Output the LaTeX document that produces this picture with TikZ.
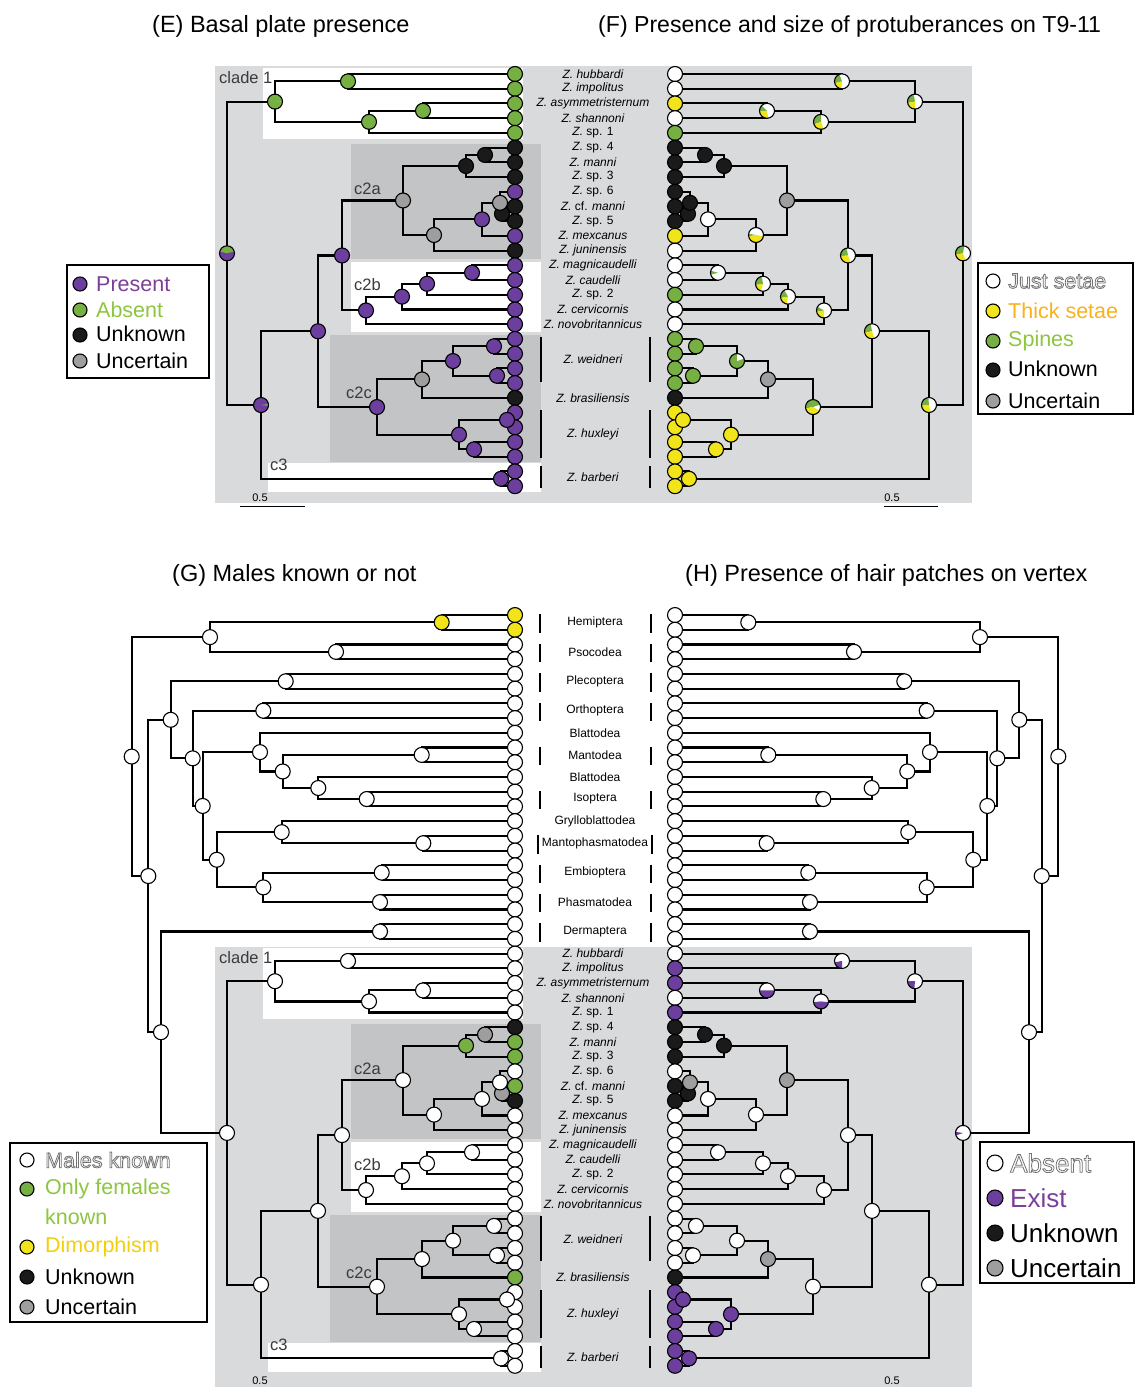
\documentclass[tikz,border=0pt]{standalone}
\usepackage{fontspec}
\setmainfont{Liberation Sans}
\usetikzlibrary{calc}
\definecolor{cpurple}{HTML}{6C3F9F}
\definecolor{cgreen}{HTML}{76B043}
\definecolor{cyellow}{HTML}{F2E41B}
\definecolor{cblack}{HTML}{1A1A1A}
\definecolor{cgrey}{HTML}{9E9E9E}
\definecolor{bglight}{HTML}{D9DADC}
\definecolor{bgdark}{HTML}{C3C4C6}
\definecolor{tpurple}{HTML}{7D3F98}
\definecolor{tgreen}{HTML}{8DC63F}
\definecolor{torange}{HTML}{F8B21A}
\definecolor{tyellow}{HTML}{F3CF0A}
\definecolor{cladetext}{HTML}{3A3A3A}

\newcommand\nodeR{7.5pt}
\newcommand\Zi[1]{\textit{Z. #1}}
\newcommand\Zs[1]{\textit{Z.} #1}
\newcommand\fs[1]{\fontsize{#1}{#1}\selectfont}
\newcommand\outlinetext[1]{{\color{white}\special{pdf:literal direct 2 Tr 0.8 w 0.45 0.45 0.45 RG}#1\special{pdf:literal direct 0 Tr}}}

\newcommand\drawdots[1]{\foreach \nn/\cc in #1 {\filldraw[mk,fill=\cc] (\nn) circle[radius=\nodeR];}}
\newcommand\pie[3]{%
  \fill[#2] (#1) circle[radius=\nodeR];
  \foreach \pc/\pa/\pb in {#3}{\fill[\pc] (#1) -- ++(\pa:\nodeR) arc[start angle=\pa,end angle=\pb,radius=\nodeR] -- cycle;}
  \draw[mk] (#1) circle[radius=\nodeR];}

\newcommand\zoroCoords{%
\foreach \i in {0,...,28}{\coordinate (t\i) at (515,\i);}
\coordinate (A) at (348,0.5);
\coordinate (D) at (423,2.5);
\coordinate (B) at (369,3.25);
\coordinate (C1) at (275,1.875);
\coordinate (P1) at (485,5.5);
\coordinate (P) at (466,6.25);
\coordinate (Q3) at (502,9.5);
\coordinate (Q2) at (500,8.75);
\coordinate (Q1) at (482,9.875);
\coordinate (Q) at (434,10.9375);
\coordinate (CA) at (403,8.59375);
\coordinate (S3) at (472,13.5);
\coordinate (S2) at (427,14.25);
\coordinate (S1) at (402,15.125);
\coordinate (CB) at (366,16.0625);
\coordinate (R4) at (342,12.328);
\coordinate (T2) at (494,18.5);
\coordinate (T3) at (497,20.5);
\coordinate (T1) at (453,19.5);
\coordinate (T) at (422,20.75);
\coordinate (U1) at (507,23.5);
\coordinate (U2) at (474,25.5);
\coordinate (U) at (459,24.5);
\coordinate (CC) at (377,22.625);
\coordinate (R3) at (318,17.477);
\coordinate (c3) at (501,27.5);
\coordinate (R2) at (261,22.488);
\coordinate (R1) at (227,12.182);
}
\newcommand\zoroEdges{%
\foreach \pp/\qq in {R1/C1,R1/R2,C1/A,C1/B,A/t0,A/t1,B/D,B/t4,D/t2,D/t3,R2/R3,R2/c3,c3/t27,c3/t28,R3/R4,R3/CC,R4/CA,R4/CB,CA/P,CA/Q,P/P1,P/t7,P1/t5,P1/t6,Q/Q1,Q/t12,Q1/Q2,Q1/t11,Q2/t8,Q2/Q3,Q3/t9,Q3/t10,CB/S1,CB/t17,S1/S2,S1/t16,S2/S3,S2/t15,S3/t13,S3/t14,CC/T,CC/U,T/T1,T/t22,T1/T2,T1/T3,T2/t18,T2/t19,T3/t20,T3/t21,U/U1,U/U2,U1/t23,U1/t24,U2/t25,U2/t26}
  {\draw[edge] (\pp) |- (\qq);}
}
\newcommand\ogCoords{%
\foreach \i in {0,...,22}{\pgfmathsetmacro\rr{\i-23}\coordinate (o\i) at (515,\rr);}
\coordinate (Hm) at (441.7,-22.5);
\coordinate (Ps) at (336,-20.5);
\coordinate (N1) at (210,-21.5);
\coordinate (Pl) at (285.7,-18.5);
\coordinate (Or) at (263.3,-16.5);
\coordinate (Ma) at (421.7,-13.5);
\coordinate (Is) at (366.7,-10.5);
\coordinate (nA) at (318.3,-11.25);
\coordinate (nB) at (282.7,-12.375);
\coordinate (nC) at (260,-13.6875);
\coordinate (Mp) at (423.3,-7.5);
\coordinate (nD) at (281.7,-8.25);
\coordinate (Em) at (381.7,-5.5);
\coordinate (Ph) at (380,-3.5);
\coordinate (nE) at (263.3,-4.5);
\coordinate (nF) at (216.7,-6.375);
\coordinate (nG) at (202.7,-10.031);
\coordinate (nH) at (192.7,-13.266);
\coordinate (nI) at (170.7,-15.883);
\coordinate (De) at (380,-1.5);
\coordinate (X) at (161,5.34);
\coordinate (nJ) at (148.3,-5.27);
\coordinate (Root) at (131.7,-13.386);
}
\newcommand\ogEdges{%
\foreach \pp/\qq in {Root/N1,Root/nJ,N1/Hm,N1/Ps,Hm/o0,Hm/o1,Ps/o2,Ps/o3,nJ/nI,nJ/X,nI/Pl,nI/nH,Pl/o4,Pl/o5,nH/Or,nH/nG,Or/o6,Or/o7,nG/nC,nG/nF,nC/o8,nC/nB,nB/Ma,nB/nA,Ma/o9,Ma/o10,nA/o11,nA/Is,Is/o12,Is/o13,nF/nD,nF/nE,nD/o14,nD/Mp,Mp/o15,Mp/o16,nE/Em,nE/Ph,Em/o17,Em/o18,Ph/o19,Ph/o20,X/De,X/R1,De/o21,De/o22}
  {\draw[edge] (\pp) |- (\qq);}
}
\newcommand\zoroLabels{%
\foreach \r/\t [count=\k] in {0/\Zi{hubbardi},1/\Zi{impolitus},2/\Zi{asymmetristernum},3/\Zi{shannoni},4/\Zs{sp. 1},5/\Zs{sp. 4},6/\Zi{manni},7/\Zs{sp. 3},8/\Zs{sp. 6},9/{\textit{Z.} cf. \textit{manni}},10/\Zs{sp. 5},11/\Zi{mexcanus},12/\Zi{juninensis},13/\Zi{magnicaudelli},14/\Zi{caudelli},15/\Zs{sp. 2},16/\Zi{cervicornis},17/\Zi{novobritannicus},19.4/\Zi{weidneri},22/\Zi{brasiliensis},24.5/\Zi{huxleyi},27.4/\Zi{barberi}}
  {\node[splabel] (lab\k) at (593,\r) {\t};}
\foreach \a/\b in {17.85/20.9,22.85/26.1,26.65/28.15}
  {\draw[grpbar] (541,\a) -- (541,\b); \draw[grpbar] (650,\a) -- (650,\b);}
}

% colour lists
\newcommand\tipsE{t0/cgreen,t1/cgreen,t2/cgreen,t3/cgreen,t4/cgreen,t5/cblack,t6/cblack,t7/cblack,t8/cpurple,t9/cblack,t10/cblack,t11/cpurple,t12/cblack,t13/cpurple,t14/cpurple,t15/cpurple,t16/cpurple,t17/cpurple,t18/cpurple,t19/cpurple,t20/cpurple,t21/cpurple,t22/cblack,t23/cpurple,t24/cpurple,t25/cpurple,t26/cpurple,t27/cpurple,t28/cpurple}
\newcommand\intE{A/cgreen,D/cgreen,B/cgreen,P1/cblack,P/cblack,CA/cgrey,Q/cgrey,Q1/cpurple,Q3/cblack,Q2/cgrey,R4/cpurple,CB/cpurple,S1/cpurple,S2/cpurple,S3/cpurple,R3/cpurple,CC/cpurple,T/cgrey,T1/cpurple,T2/cpurple,T3/cpurple,U/cpurple,U1/cpurple,U2/cpurple,c3/cpurple}
\newcommand\tipsF{t0/white,t1/white,t2/cyellow,t3/white,t4/cgreen,t5/cblack,t6/cblack,t7/cblack,t8/cblack,t9/cblack,t10/cblack,t11/cyellow,t12/white,t13/white,t14/white,t15/cgreen,t16/white,t17/white,t18/cgreen,t19/cgreen,t20/cgreen,t21/cgreen,t22/cblack,t23/cyellow,t24/cyellow,t25/cyellow,t26/cyellow,t27/cyellow,t28/cyellow}
\newcommand\intF{P1/cblack,P/cblack,CA/cgrey,Q1/white,Q3/cblack,Q2/cblack,T/cgrey,T2/cgreen,T3/cgreen,U/cyellow,U1/cyellow,U2/cyellow,c3/cyellow}
\newcommand\tipsG{o0/cyellow,o1/cyellow,o2/white,o3/white,o4/white,o5/white,o6/white,o7/white,o8/white,o9/white,o10/white,o11/white,o12/white,o13/white,o14/white,o15/white,o16/white,o17/white,o18/white,o19/white,o20/white,o21/white,o22/white,t0/white,t1/white,t2/white,t3/white,t4/white,t5/cblack,t6/cgreen,t7/cgreen,t8/white,t9/cgreen,t10/cblack,t11/white,t12/white,t13/white,t14/white,t15/white,t16/white,t17/white,t18/white,t19/white,t20/white,t21/white,t22/cgreen,t23/white,t24/white,t25/white,t26/white,t27/white,t28/white}
\newcommand\intG{Hm/cyellow,Ps/white,N1/white,Pl/white,Or/white,Ma/white,Is/white,nA/white,nB/white,nC/white,Mp/white,nD/white,Em/white,Ph/white,nE/white,nF/white,nG/white,nH/white,nI/white,De/white,X/white,nJ/white,Root/white,R1/white,R2/white,C1/white,A/white,D/white,B/white,P1/cgrey,P/cgreen,CA/white,Q/white,Q1/white,Q3/cgrey,Q2/white,R4/white,CB/white,S1/white,S2/white,S3/white,R3/white,CC/white,T/white,T1/white,T2/white,T3/white,U/white,U1/white,U2/white,c3/white}
\newcommand\tipsH{o0/white,o1/white,o2/white,o3/white,o4/white,o5/white,o6/white,o7/white,o8/white,o9/white,o10/white,o11/white,o12/white,o13/white,o14/white,o15/white,o16/white,o17/white,o18/white,o19/white,o20/white,o21/white,o22/white,t0/white,t1/cpurple,t2/cpurple,t3/white,t4/cpurple,t5/cblack,t6/cblack,t7/cblack,t8/white,t9/cblack,t10/cblack,t11/white,t12/white,t13/white,t14/white,t15/white,t16/white,t17/white,t18/white,t19/white,t20/white,t21/white,t22/cblack,t23/cpurple,t24/cpurple,t25/cpurple,t26/cpurple,t27/cpurple,t28/cpurple}
\newcommand\intH{Hm/white,Ps/white,N1/white,Pl/white,Or/white,Ma/white,Is/white,nA/white,nB/white,nC/white,Mp/white,nD/white,Em/white,Ph/white,nE/white,nF/white,nG/white,nH/white,nI/white,De/white,X/white,nJ/white,Root/white,R2/white,P1/cblack,P/cblack,CA/cgrey,Q/white,Q1/white,Q3/cblack,Q2/cgrey,R4/white,CB/white,S1/white,S2/white,S3/white,R3/white,CC/white,T/cgrey,T1/white,T2/white,T3/white,U/cpurple,U1/cpurple,U2/cpurple,c3/cpurple}

\begin{document}
\begin{tikzpicture}[x=1pt,y=-1pt,
  edge/.style={line width=2.1pt,black},
  mk/.style={draw=black,line width=1.1pt},
  splabel/.style={font=\fs{12},inner sep=0pt},
  oglabel/.style={font=\fs{12},inner sep=0pt},
  cladelab/.style={font=\fs{16.5},text=cladetext,anchor=west,inner sep=0pt},
  title/.style={font=\fs{23.5},anchor=base west,inner sep=0pt},
  legtext/.style={font=\fs{21.5},anchor=west,inner sep=0pt},
  legtextH/.style={font=\fs{26},anchor=west,inner sep=0pt},
  legbox/.style={draw=black,line width=1.5pt,fill=white},
  grpbar/.style={line width=2pt,black},
  scaletext/.style={font=\fs{11},inner sep=0pt}]
\useasboundingbox (0,0) rectangle (1135,1387);
\fill[white] (0,0) rectangle (1135,1387);

% ---------- backgrounds ----------
\fill[bglight] (215,66) rectangle (972,503);
\fill[white] (263,68) rectangle (523,139);
\fill[bgdark] (351,144) rectangle (541,259);
\fill[white] (351,262) rectangle (541,332);
\fill[bgdark] (330,335) rectangle (541,462);
\fill[white] (268,463) rectangle (541,492);

\fill[bglight] (215,947) rectangle (972,1387);
\fill[white] (263,948) rectangle (523,1019);
\fill[bgdark] (351,1024) rectangle (541,1139);
\fill[white] (351,1142) rectangle (541,1212);
\fill[bgdark] (330,1215) rectangle (541,1342);
\fill[white] (268,1343) rectangle (541,1372);

% ---------- titles ----------
\node[title] (titE) at (152,32) {(E) Basal plate presence};
\node[title,font=\fs{23.1}] (titF) at (598,32) {(F) Presence and size of protuberances on T9-11};
\node[title] (titG) at (172,581) {(G) Males known or not};
\node[title] (titH) at (685,581) {(H) Presence of hair patches on vertex};

% ---------- clade labels ----------
\foreach \yy/\nm in {0/top,880/bot}{
  \node[cladelab] (cl1\nm) at (219,78+\yy) {clade 1};
  \node[cladelab] (cla\nm) at (354,189+\yy) {c2a};
  \node[cladelab] (clb\nm) at (354,285+\yy) {c2b};
  \node[cladelab] (clc\nm) at (346,393+\yy) {c2c};
  \node[cladelab] (cld\nm) at (270,465+\yy) {c3};
}

% ---------- panel E ----------
\begin{scope}[shift={(0,74)},y=-14.72pt,name prefix=E-]
  \zoroCoords
  \zoroEdges
  \drawdots\tipsE
  \drawdots\intE
  \pie{C1}{cgreen}{cgrey/-8/4}
  \pie{R1}{cpurple}{cgreen/15/165}
  \pie{R2}{cpurple}{cgreen/-6/8}
  \zoroLabels
\end{scope}

% ---------- panel F ----------
\begin{scope}[shift={(1190,74)},x=-1pt,y=-14.72pt,name prefix=F-]
  \zoroCoords
  \zoroEdges
  \drawdots\tipsF
  \drawdots\intF
  \pie{A}{white}{cgreen/110/195,cyellow/195/265}
  \pie{D}{white}{cgreen/135/185,cyellow/185/280}
  \pie{B}{white}{cgreen/90/200,cyellow/200/290}
  \pie{C1}{white}{cgreen/100/190,cyellow/190/270}
  \pie{R1}{white}{cgreen/80/190,cyellow/190/290}
  \pie{Q}{white}{cgreen/170/190,cyellow/190/350}
  \pie{R4}{white}{cgreen/100/185,cyellow/185/290}
  \pie{R3}{white}{cgreen/100/190,cyellow/190/290}
  \pie{S3}{white}{cgreen/165/195}
  \pie{S2}{white}{cgreen/100/190,cyellow/190/255}
  \pie{S1}{white}{cgreen/120/190,cyellow/190/260}
  \pie{CB}{white}{cgreen/150/190,cyellow/190/270}
  \pie{CC}{white}{cgreen/20/190,cyellow/190/330}
  \pie{T1}{cgreen}{white/20/90}
  \pie{R2}{white}{cgreen/95/185,cyellow/185/285}
\end{scope}

% ---------- panel G ----------
\begin{scope}[shift={(0,953.6)},y=-14.72pt,name prefix=G-]
  \zoroCoords
  \ogCoords
  \zoroEdges
  \ogEdges
  \drawdots\tipsG
  \drawdots\intG
  \zoroLabels
  \foreach \r/\t [count=\k] in {-22.5/Hemiptera,-20.5/Psocodea,-18.5/Plecoptera,-16.5/Orthoptera,-15/Blattodea,-13.5/Mantodea,-12/Blattodea,-10.5/Isoptera,-9/Grylloblattodea,-7.5/Mantophasmatodea,-5.5/Embioptera,-3.5/Phasmatodea,-1.5/Dermaptera}
    {\node[oglabel] (og\k) at (595,\r) {\t};}
  \foreach \a/\b/\xl/\xr in {-23.05/-21.8/540/651,-21.05/-19.8/540/651,-19.05/-17.8/540/651,-17.05/-15.8/540/651,-14.05/-12.8/540/651,-11.05/-9.8/540/651,-8.05/-6.8/538/652,-6.05/-4.8/540/651,-4.05/-2.8/540/651,-2.05/-0.8/540/651}
    {\draw[grpbar] (\xl,\a) -- (\xl,\b); \draw[grpbar] (\xr,\a) -- (\xr,\b);}
\end{scope}

% ---------- panel H ----------
\begin{scope}[shift={(1190,953.6)},x=-1pt,y=-14.72pt,name prefix=H-]
  \zoroCoords
  \ogCoords
  \zoroEdges
  \ogEdges
  \drawdots\tipsH
  \drawdots\intH
  \pie{A}{white}{cpurple/190/270}
  \pie{D}{white}{cpurple/180/360}
  \pie{B}{white}{cpurple/185/355}
  \pie{C1}{white}{cpurple/180/265}
  \pie{R1}{white}{cpurple/172/200}
\end{scope}

% ---------- scale bars ----------
\node[scaletext] (scE) at (260,498) {0.5};
\draw[line width=1pt] (240,506) -- (305,506);
\node[scaletext] (scF) at (892,498) {0.5};
\draw[line width=1pt] (884,506) -- (938,506);
\node[scaletext] (scG) at (260,1381) {0.5};
\node[scaletext] (scH) at (892,1381) {0.5};

% ---------- legend E ----------
\draw[legbox] (67,265) rectangle (209,378);
\filldraw[mk,fill=cpurple] (80,284) circle[radius=7pt];
\node[legtext,text=tpurple] (lEa) at (96,284) {Present};
\filldraw[mk,fill=cgreen] (80,310) circle[radius=7pt];
\node[legtext,text=tgreen] (lEb) at (96,310) {Absent};
\filldraw[mk,fill=cblack] (80,335) circle[radius=7pt];
\node[legtext] (lEc) at (96,334) {Unknown};
\filldraw[mk,fill=cgrey] (80,361) circle[radius=7pt];
\node[legtext] (lEd) at (96,361) {Uncertain};

% ---------- legend F ----------
\draw[legbox] (978,263) rectangle (1133,414);
\filldraw[mk,fill=white] (993,281) circle[radius=7pt];
\node[legtext] (lFa) at (1008,281) {\outlinetext{Just setae}};
\filldraw[mk,fill=cyellow] (993,311) circle[radius=7pt];
\node[legtext,text=torange] (lFb) at (1008,311) {Thick setae};
\filldraw[mk,fill=cgreen] (993,341) circle[radius=7pt];
\node[legtext,text=tgreen] (lFc) at (1008,341) {Spines};
\filldraw[mk,fill=cblack] (993,370) circle[radius=7pt];
\node[legtext] (lFd) at (1008,369) {Unknown};
\filldraw[mk,fill=cgrey] (993,401) circle[radius=7pt];
\node[legtext] (lFe) at (1008,401) {Uncertain};

% ---------- legend G ----------
\draw[legbox] (10,1143) rectangle (207,1322);
\filldraw[mk,fill=white] (27,1160) circle[radius=7pt];
\node[legtext] (lGa) at (45,1160) {\outlinetext{Males known}};
\filldraw[mk,fill=cgreen] (27,1189) circle[radius=7pt];
\node[legtext,text=tgreen] (lGb) at (45,1189) {Only females};
\node[legtext,text=tgreen] (lGb2) at (45,1217) {known};
\filldraw[mk,fill=cyellow] (27,1247) circle[radius=7pt];
\node[legtext,text=tyellow] (lGc) at (45,1247) {Dimorphism};
\filldraw[mk,fill=cblack] (27,1277) circle[radius=7pt];
\node[legtext] (lGd) at (45,1277) {Unknown};
\filldraw[mk,fill=cgrey] (27,1307) circle[radius=7pt];
\node[legtext] (lGe) at (45,1307) {Uncertain};

% ---------- legend H ----------
\draw[legbox] (980,1142) rectangle (1134,1283);
\filldraw[mk,fill=white] (995,1163) circle[radius=8pt];
\node[legtextH] (lHa) at (1010,1163) {\outlinetext{Absent}};
\filldraw[mk,fill=cpurple] (995,1198) circle[radius=8pt];
\node[legtextH,text=tpurple] (lHb) at (1010,1198) {Exist};
\filldraw[mk,fill=cblack] (995,1233) circle[radius=8pt];
\node[legtextH] (lHc) at (1010,1233) {Unknown};
\filldraw[mk,fill=cgrey] (995,1268) circle[radius=8pt];
\node[legtextH] (lHd) at (1010,1268) {Uncertain};
\end{tikzpicture}
\end{document}
